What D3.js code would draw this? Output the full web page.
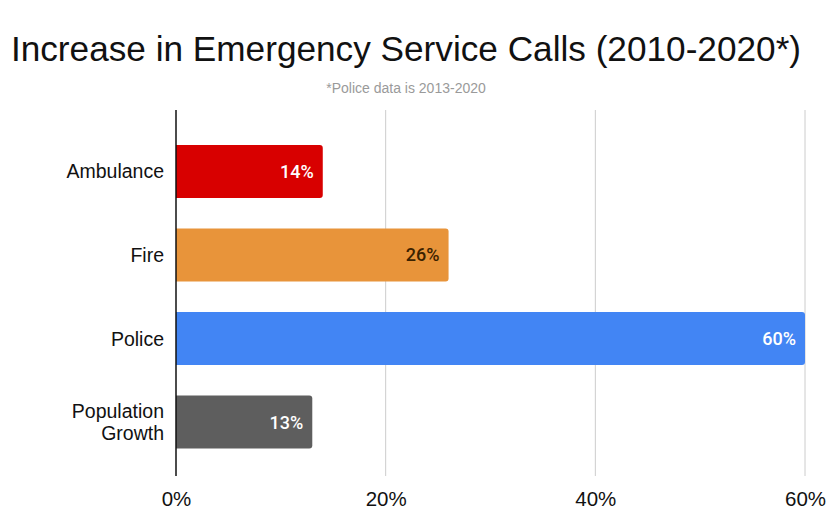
<!DOCTYPE html>
<html>
<head>
<meta charset="utf-8">
<script src="https://cdn.jsdelivr.net/npm/d3@7"></script>
<style>
  html, body { margin: 0; padding: 0; background: #fff; }
  svg { display: block; font-family: "Liberation Sans", Arial, sans-serif; }
</style>
</head>
<body>
<svg id="chart" width="827" height="522"></svg>
<script>
// Percentage increase in calls per service
const categories = ["Ambulance", "Fire", "Police", "Population\nGrowth"];
const values = [14, 26, 60, 13];
const barColors = ["#d80000", "#e8943a", "#4285f4", "#5e5e5e"];
const labelColors = ["#ffffff", "#3b2200", "#ffffff", "#ffffff"];
const tickValues = [0, 20, 40, 60];

const svg = d3.select("#chart");
const plotLeft = 176, plotRight = 805, plotTop = 110, plotBottom = 476;

const x = d3.scaleLinear().domain([0, 60]).range([plotLeft, plotRight]);
const y = d3.scaleBand().domain(categories).range([124, 469.5]).paddingInner(0.365).paddingOuter(0.25);

// Title and subtitle
svg.append("text")
  .attr("x", 406).attr("y", 61)
  .attr("text-anchor", "middle")
  .attr("font-size", 35.2)
  .attr("fill", "#111")
  .text("Increase in Emergency Service Calls (2010-2020*)");

svg.append("text")
  .attr("x", 406).attr("y", 93)
  .attr("text-anchor", "middle")
  .attr("font-size", 14)
  .attr("fill", "#9a9a9a")
  .text("*Police data is 2013-2020");

// Vertical gridlines
svg.append("g").selectAll("line")
  .data(tickValues.filter(d => d > 0))
  .join("line")
  .attr("x1", d => x(d)).attr("x2", d => x(d))
  .attr("y1", plotTop).attr("y2", plotBottom)
  .attr("stroke", "#cccccc").attr("stroke-width", 1);

// Bars
svg.append("g").selectAll("path")
  .data(categories)
  .join("path")
  .attr("d", (c, i) => {
    const x0 = x(0), x1 = x(values[i]), y0 = y(c), h = y.bandwidth(), r = 3;
    return `M${x0},${y0}H${x1 - r}Q${x1},${y0} ${x1},${y0 + r}V${y0 + h - r}Q${x1},${y0 + h} ${x1 - r},${y0 + h}H${x0}Z`;
  })
  .attr("fill", (c, i) => barColors[i]);

// Value labels inside bar ends
svg.append("g").selectAll("text")
  .data(categories)
  .join("text")
  .attr("x", (c, i) => x(values[i]) - 9)
  .attr("y", c => y(c) + y.bandwidth() / 2 + 6.5)
  .attr("text-anchor", "end")
  .attr("font-family", "Roboto, 'Liberation Sans', sans-serif")
  .attr("font-size", 18)
  .attr("font-weight", 500)
  .attr("fill", (c, i) => labelColors[i])
  .text((c, i) => values[i] + "%");

// Category labels
const cat = svg.append("g").selectAll("text")
  .data(categories)
  .join("text")
  .attr("text-anchor", "end")
  .attr("font-size", 19.5)
  .attr("fill", "#111");
cat.each(function (c) {
  const lines = c.split("\n");
  const mid = y(c) + y.bandwidth() / 2;
  const lh = 22;
  d3.select(this).selectAll("tspan")
    .data(lines)
    .join("tspan")
    .attr("x", 164)
    .attr("y", (l, j) => mid + 7 + (j - (lines.length - 1) / 2) * lh)
    .text(l => l);
});

// Baseline axis
svg.append("line")
  .attr("x1", x(0)).attr("x2", x(0))
  .attr("y1", plotTop).attr("y2", plotBottom)
  .attr("stroke", "#111").attr("stroke-width", 1.5);

// X tick labels
const xAxis = d3.axisBottom(x).tickValues(tickValues).tickSize(0).tickFormat(d => d + "%");
const gx = svg.append("g").attr("transform", `translate(0,${plotBottom})`).call(xAxis);
gx.select(".domain").remove();
gx.selectAll("text")
  .attr("font-family", "Liberation Sans, Arial, sans-serif")
  .attr("font-size", 20.5)
  .attr("fill", "#111")
  .attr("dy", 0)
  .attr("y", 30);
</script>
</body>
</html>
